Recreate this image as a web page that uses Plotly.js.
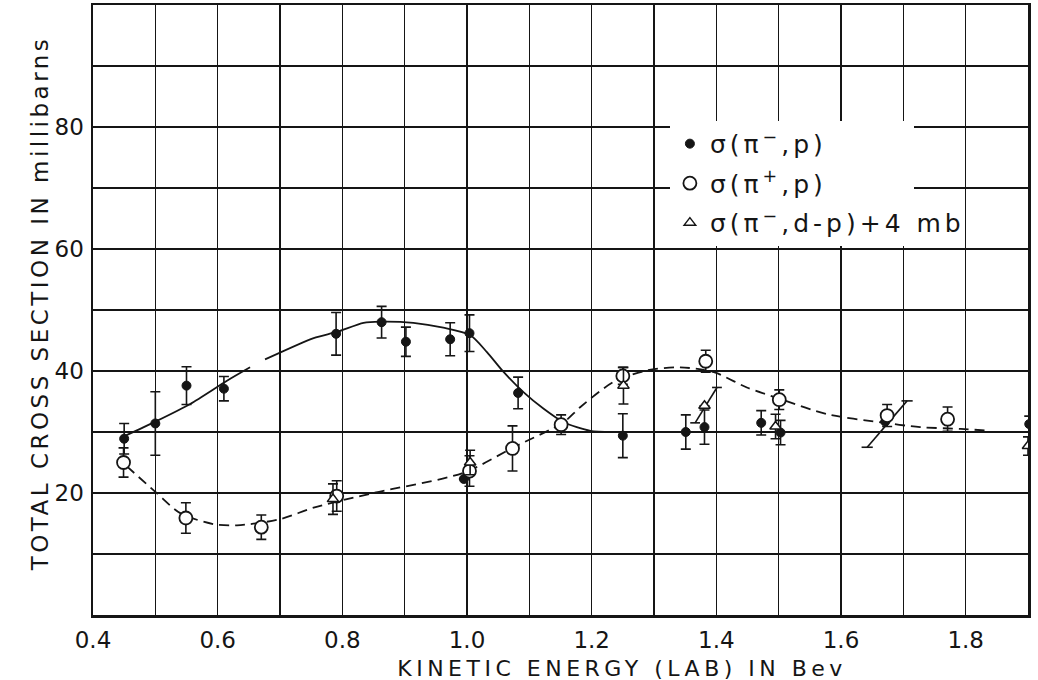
<!DOCTYPE html>
<html>
<head>
<meta charset="utf-8">
<script src="https://cdn.plot.ly/plotly-3.0.1.min.js"></script>
<style>html,body{margin:0;padding:0;background:#fff;}#chart{width:1038px;height:680px;}</style>
</head>
<body>
<div id="chart"></div>
<script>
// sigma(pi-, p) — filled points
var piMinusX   = [0.45, 0.50, 0.55, 0.61, 0.79, 0.863, 0.902, 0.973, 1.004, 0.995, 1.082, 1.25, 1.351, 1.381, 1.472, 1.503, 1.671, 1.902];
var piMinusY   = [28.9, 31.4, 37.6, 37.1, 46.1, 48.0, 44.8, 45.2, 46.2, 22.3, 36.4, 29.4, 30.0, 30.8, 31.5, 29.9, 31.7, 31.3];
var piMinusErr = [2.5, 5.2, 3.1, 2.0, 3.5, 2.6, 2.4, 2.7, 3.0, 0, 2.6, 3.6, 2.8, 2.8, 2.0, 2.0, 0, 1.3];

// sigma(pi+, p) — open circles
var piPlusX   = [0.449, 0.549, 0.670, 0.791, 1.004, 1.073, 1.151, 1.250, 1.383, 1.501, 1.674, 1.771];
var piPlusY   = [25.0, 15.9, 14.4, 19.5, 23.6, 27.3, 31.2, 39.2, 41.6, 35.3, 32.7, 32.1];
var piPlusErr = [2.4, 2.5, 2.0, 2.5, 2.5, 3.7, 1.6, 1.4, 1.8, 1.6, 1.8, 2.0];

// sigma(pi-, d-p) + 4 mb — open triangles
var dpX   = [0.785, 1.005, 1.251, 1.381, 1.495, 1.90];
var dpY   = [19.0, 25.0, 37.6, 34.3, 30.9, 27.7];
var dpErr = [2.5, 2.0, 3.0, 0, 2.0, 1.5];

// slanted bars
var slantAX = [1.366, 1.401], slantAY = [31.5, 37.3];
var slantBX = [1.642, 1.706], slantBY = [27.5, 35.1];

// solid curve (pi-, p)
var curveAX = [0.45, 0.50, 0.556, 0.615, 0.652, null, 0.676, 0.754, 0.791, 0.834, 0.861, 0.914, 0.962, 1.005, 1.032, 1.059, 1.091, 1.123, 1.155, 1.198, 1.24, 1.3, 1.9];
var curveAY = [29.3, 31.7, 34.6, 38.4, 40.6, null, 41.9, 45.4, 46.4, 47.9, 48.1, 47.9, 47.1, 45.9, 43.1, 39.8, 36.5, 33.8, 31.6, 30.2, 30.0, 30.0, 30.0];

// dashed curve (pi+, p)
var curveBX = [0.454, 0.501, 0.540, 0.593, 0.631, 0.700, 0.754, 0.850, 0.994, 1.075, 1.155, 1.182, 1.235, 1.289, 1.342, 1.396, 1.449, 1.503, 1.578, 1.663, 1.727, 1.792, 1.84];
var curveBY = [24.4, 20.1, 16.7, 14.9, 14.7, 15.7, 17.6, 20.0, 23.3, 27.5, 31.6, 34.1, 38.2, 40.1, 40.6, 39.8, 37.3, 35.4, 32.9, 31.6, 30.8, 30.5, 30.2];

// ticks
var xTickVals = [0.4,0.5,0.6,0.7,0.8,0.9,1.0,1.1,1.2,1.3,1.4,1.5,1.6,1.7,1.8,1.9];
var xTickText = ['0.4','','0.6','','0.8','','1.0','','1.2','','1.4','','1.6','','1.8',''];
var yTickVals = [0,10,20,30,40,50,60,70,80,90,100];
var yTickText = ['','','20','','40','','60','','80','',''];

var xTitle = 'KINETIC ENERGY (LAB) IN Bev';
var yTitle = 'TOTAL CROSS SECTION IN millibarns';

var ink = '#151515';
var fontFam = 'DejaVu Sans, Liberation Sans, sans-serif';

function errs(arr){ return {type:'data', array:arr, visible:true, color:ink, thickness:1.6, width:5}; }

var traces = [
  {x:curveAX, y:curveAY, mode:'lines', line:{color:ink, width:1.8, shape:'spline', smoothing:0.7}, showlegend:false, connectgaps:false, hoverinfo:'skip'},
  {x:curveBX, y:curveBY, mode:'lines', line:{color:ink, width:1.8, shape:'spline', smoothing:0.8, dash:'10px,6px'}, showlegend:false, hoverinfo:'skip'},
  {x:slantAX, y:slantAY, mode:'lines+markers', line:{color:ink, width:1.6}, marker:{symbol:'line-ew', size:7, line:{color:ink, width:1.6}}, showlegend:false},
  {x:slantBX, y:slantBY, mode:'lines+markers', line:{color:ink, width:1.6}, marker:{symbol:'line-ew', size:8, line:{color:ink, width:1.6}}, showlegend:false},
  {x:piMinusX, y:piMinusY, mode:'markers', name:'\u03c3(\u03c0<sup>\u2212</sup>,p)', legendgroup:'a',
   marker:{symbol:'circle', size:9, color:ink, line:{color:ink, width:1}}, error_y:errs(piMinusErr)},
  {x:piPlusX, y:piPlusY, mode:'markers', name:'\u03c3(\u03c0<sup>+</sup>,p)', legendgroup:'b',
   marker:{symbol:'circle', size:13, color:'#fff', line:{color:ink, width:1.8}}, error_y:errs(piPlusErr)},
  {x:dpX, y:dpY, mode:'markers', name:'\u03c3(\u03c0<sup>\u2212</sup>,d-p)+4 mb', legendgroup:'c',
   marker:{symbol:'triangle-up', size:10, color:'#fff', line:{color:ink, width:1.5}}, error_y:errs(dpErr)}
];

var axisCommon = {
  showline:true, mirror:true, linecolor:ink, linewidth:2.5,
  showgrid:true, gridcolor:ink, gridwidth:1.6,
  zeroline:false, ticks:'', tickmode:'array',
  tickfont:{family:fontFam, size:23, color:ink}
};

var layout = {
  width:1038, height:680,
  margin:{l:93, r:10, t:5, b:65},
  paper_bgcolor:'#fff', plot_bgcolor:'#fff',
  font:{family:fontFam, color:ink},
  xaxis: Object.assign({}, axisCommon, {
    range:[0.4,1.9], tickvals:xTickVals, ticktext:xTickText, ticklabelstandoff:3
  }),
  yaxis: Object.assign({}, axisCommon, {
    range:[0,100], tickvals:yTickVals, ticktext:yTickText, ticklabelstandoff:2
  }),
  annotations:[
    {text:xTitle, xref:'paper', yref:'paper', x:0.566, y:-0.087, xanchor:'center', yanchor:'middle',
     showarrow:false, font:{family:fontFam, size:22, color:ink}},
    {text:yTitle, xref:'paper', yref:'paper', x:-0.057, y:0.51, xanchor:'center', yanchor:'middle',
     textangle:-90, showarrow:false, font:{family:fontFam, size:23, color:ink}}
  ],
  showlegend:true,
  legend:{x:0.617, y:0.81, xanchor:'left', yanchor:'top', bgcolor:'#fff', borderwidth:0,
          font:{family:fontFam, size:25, color:ink}, traceorder:'grouped', tracegroupgap:4, itemwidth:30}
};

Plotly.newPlot('chart', traces, layout, {staticPlot:true, displayModeBar:false}).then(function(gd){
  var ann = gd.querySelectorAll('.annotation-text');
  if (ann[0]) ann[0].style.letterSpacing = '4.5px';
  if (ann[1]) ann[1].style.letterSpacing = '3.5px';
  gd.querySelectorAll('.legendtext').forEach(function(t){ t.style.letterSpacing = '4px'; });
  gd.querySelectorAll('.legend [clip-path]').forEach(function(el){ el.removeAttribute('clip-path'); });
  var lg = gd.querySelector('.legend');
  if (lg) lg.removeAttribute('clip-path');
});
</script>
</body>
</html>
